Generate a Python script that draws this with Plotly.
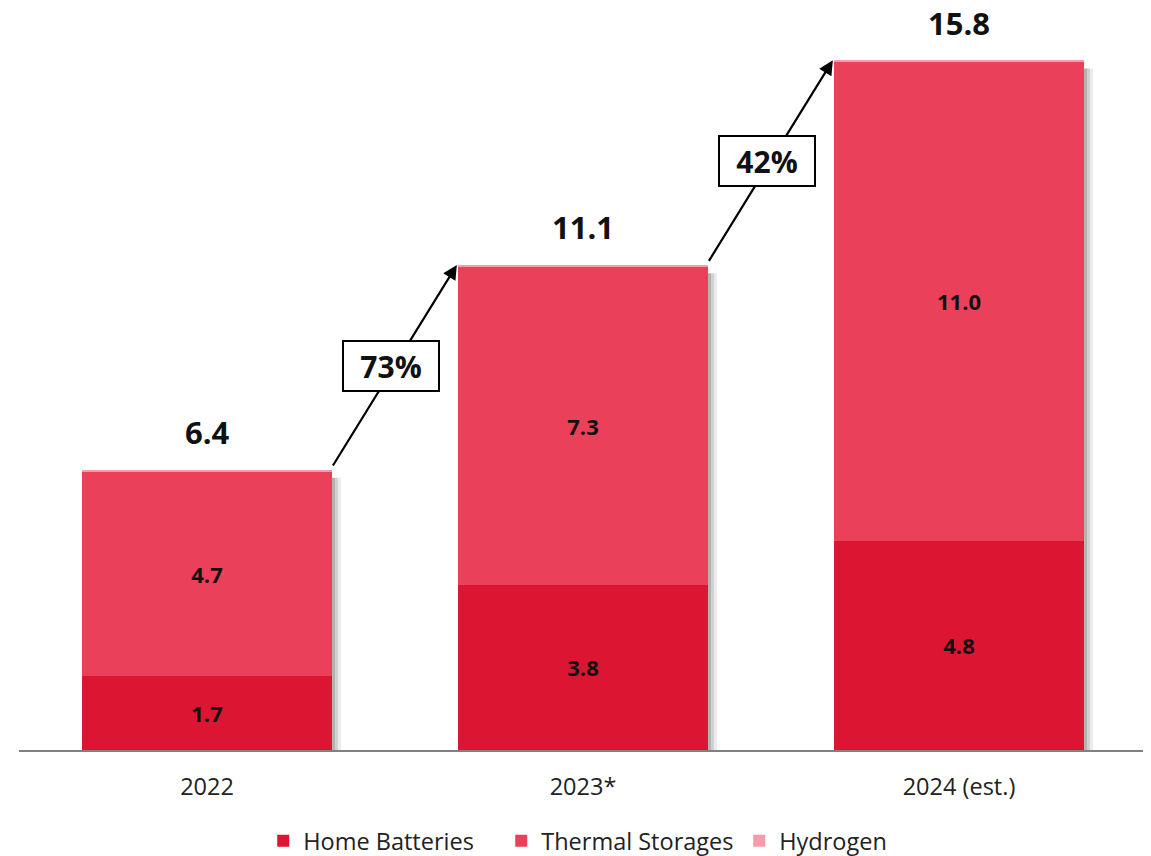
import plotly.graph_objects as go

categories = ["2022", "2023*", "2024 (est.)"]
home_batteries = [1.7, 3.8, 4.8]
thermal_storages = [4.7, 7.3, 11.0]
hydrogen = [0.03, 0.03, 0.03]
series_names = ["Home Batteries", "Thermal Storages", "Hydrogen"]
colors = ["#DC1533", "#EB4059", "#F49CA9"]

totals = [round(a + b, 1) for a, b in zip(home_batteries, thermal_storages)]
FONT = "Open Sans"
BAR_HALF = 0.3325

fig = go.Figure()
for name, vals, col, show_text in zip(series_names, [home_batteries, thermal_storages, hydrogen], colors, [True, True, False]):
    fig.add_trace(go.Bar(
        x=list(range(len(categories))), y=vals, name=name,
        marker=dict(color=col, line=dict(width=0)),
        text=[f"{v:.1f}" for v in vals] if show_text else None,
        textposition="inside" if show_text else "none",
        insidetextanchor="middle",
        textfont=dict(family=FONT, size=22, color="#111111"),
        texttemplate="<b>%{text}</b>" if show_text else None,
        width=2 * BAR_HALF,
        hoverinfo="skip",
    ))

shapes = []
for i, t in enumerate(totals):
    for k, op in enumerate([0.30, 0.18, 0.08]):
        shapes.append(dict(type="rect", xref="x", yref="y", layer="below",
                           x0=i + BAR_HALF + k * 0.008, x1=i + BAR_HALF + (k + 1) * 0.008,
                           y0=0, y1=t - 0.15,
                           fillcolor=f"rgba(0,0,0,{op})", line=dict(width=0)))

annotations = []
for i, t in enumerate(totals):
    annotations.append(dict(x=i, y=t + 0.03, xref="x", yref="y", text=f"<b>{t:.1f}</b>",
                            showarrow=False, yanchor="bottom", yshift=15,
                            font=dict(family=FONT, size=31, color="#111111")))

for i in range(len(totals) - 1):
    x0, y0 = i + BAR_HALF, totals[i] + 0.1
    x1, y1 = i + 1 - BAR_HALF - 0.003, totals[i + 1] + 0.04
    annotations.append(dict(x=x1, y=y1, ax=x0, ay=y0, xref="x", yref="y", axref="x", ayref="y",
                            showarrow=True, arrowhead=2, arrowsize=1.3, arrowwidth=2.2,
                            arrowcolor="#000000", text=""))
    growth = round((totals[i + 1] / totals[i] - 1) * 100)
    annotations.append(dict(x=(x0 + x1) / 2 - 0.01, y=(y0 + y1) / 2, xref="x", yref="y",
                            text=f"<b>{growth}%</b>", showarrow=False,
                            font=dict(family=FONT, size=30, color="#111111"),
                            bgcolor="#FFFFFF", bordercolor="#000000", borderwidth=2,
                            borderpad=4, width=86, height=40))

ymax = 742 / (688 / 15.8)
fig.update_layout(
    width=1143, height=848,
    margin=dict(l=11, r=4, t=0, b=106, autoexpand=False),
    barmode="stack",
    bargap=0.335,
    plot_bgcolor="white", paper_bgcolor="white",
    showlegend=True,
    legend=dict(orientation="h", x=0.533, xanchor="center", y=-0.093, yanchor="top",
                font=dict(family=FONT, size=23.5, color="#222222"), traceorder="normal",
                itemwidth=30, itemsizing="constant",
                entrywidth=193, entrywidthmode="pixels"),
    xaxis=dict(tickmode="array", tickvals=list(range(len(categories))), ticktext=categories,
               range=[-0.5, len(categories) - 0.5], showline=True, linecolor="#808080", linewidth=1.5,
               ticks="", showgrid=False, zeroline=False, automargin=False,
               ticklabelstandoff=15,
               tickfont=dict(family=FONT, size=23.5, color="#222222")),
    yaxis=dict(range=[0, ymax], visible=False, showgrid=False, zeroline=False, automargin=False),
    shapes=shapes,
    annotations=annotations,
)

fig.write_html("out.html")
